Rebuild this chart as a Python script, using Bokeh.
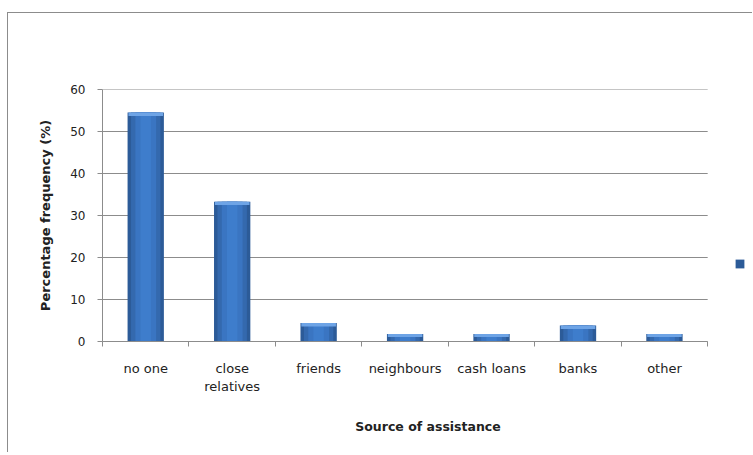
from bokeh.plotting import figure
from bokeh.models import FixedTicker, Legend, LegendItem, ColumnDataSource
from bokeh.embed import file_html
from bokeh.resources import INLINE

categories = ["no one", "close\nrelatives", "friends", "neighbours", "cash loans", "banks", "other"]
values = [54.5, 33.3, 4.4, 1.8, 1.8, 3.8, 1.8]
y_ticks = [0, 10, 20, 30, 40, 50, 60]

n = len(categories)
x = [i + 0.5 for i in range(n)]
caps = [v - min(0.8, v * 0.4) for v in values]
src = ColumnDataSource(dict(x=x, top=values, cap=caps))

GRID = "#8c8c8c"
FONT = "DejaVu Sans"

# frame extends to the right of the categories to hold the legend
p = figure(width=745, height=440, x_range=(0, n + 0.53), y_range=(0, 60),
           output_backend="svg", toolbar_location=None,
           min_border_left=94, min_border_right=0, min_border_top=76, min_border_bottom=112)
p.margin = (12, 0, 0, 7)
p.styles = {"border-top": "1px solid #8c8c8c", "border-left": "1px solid #8c8c8c"}
p.outline_line_color = None
p.background_fill_color = "white"
p.border_fill_color = "white"

# horizontal grid lines spanning only the category area
p.xgrid.visible = False
p.ygrid.visible = False
p.segment(x0=[0] * len(y_ticks), x1=[n] * len(y_ticks), y0=y_ticks, y1=y_ticks,
          line_color=GRID, line_width=1)

# bars with a simple shaded look
r_main = p.vbar(x="x", top="top", bottom=0, width=0.42, source=src, fill_color="#2c5b98", line_color=None)
p.vbar(x="x", top="top", bottom=0, width=0.34, source=src, fill_color="#3469ae", line_color=None)
p.vbar(x="x", top="top", bottom=0, width=0.24, source=src, fill_color="#3a75c2", line_color=None)
p.vbar(x="x", top="top", bottom=0, width=0.12, source=src, fill_color="#3e7dcc", line_color=None)
p.vbar(x="x", top="top", bottom="cap", width=0.40, source=src, fill_color="#6ea4e6", line_color=None)

# y axis
p.yaxis.ticker = FixedTicker(ticks=y_ticks)
p.yaxis.axis_line_color = GRID
p.yaxis.major_tick_line_color = GRID
p.yaxis.major_tick_out = 5
p.yaxis.major_tick_in = 0
p.yaxis.minor_tick_line_color = None
p.yaxis.major_label_standoff = 12
p.yaxis.major_label_text_font = FONT
p.yaxis.major_label_text_font_size = "12px"
p.yaxis.major_label_text_color = "#222222"
p.yaxis.axis_label = "Percentage frequency (%)"
p.yaxis.axis_label_text_font = FONT
p.yaxis.axis_label_text_font_size = "13px"
p.yaxis.axis_label_text_font_style = "bold"
p.yaxis.axis_label_text_color = "#222222"
p.yaxis.axis_label_standoff = 14

# x axis
p.xaxis.bounds = (0, n)
p.xaxis.ticker = FixedTicker(ticks=x, minor_ticks=list(range(n + 1)))
p.xaxis.major_label_overrides = {xi: c for xi, c in zip(x, categories)}
p.xaxis.axis_line_color = GRID
p.xaxis.major_tick_line_color = None
p.xaxis.major_tick_out = 0
p.xaxis.major_tick_in = 0
p.xaxis.minor_tick_line_color = GRID
p.xaxis.minor_tick_out = 5
p.xaxis.minor_tick_in = 0
p.xaxis.major_label_standoff = 14
p.xaxis.major_label_text_font = FONT
p.xaxis.major_label_text_font_size = "13px"
p.xaxis.major_label_text_color = "#222222"
p.xaxis.axis_label = "Source of assistance"
p.xaxis.axis_label_text_font = FONT
p.xaxis.axis_label_text_font_size = "12.5px"
p.xaxis.axis_label_text_font_style = "bold"
p.xaxis.axis_label_text_color = "#222222"
p.xaxis.axis_label_standoff = 22

legend = Legend(items=[LegendItem(label=" ", renderers=[r_main])], location=(632, 72),
                glyph_width=11, glyph_height=11, padding=0, margin=0, spacing=0,
                label_standoff=0, label_width=0, label_height=0,
                border_line_color=None, background_fill_alpha=0, label_text_font_size="1px")
p.add_layout(legend)

open("out.html", "w").write(file_html(p, INLINE))
